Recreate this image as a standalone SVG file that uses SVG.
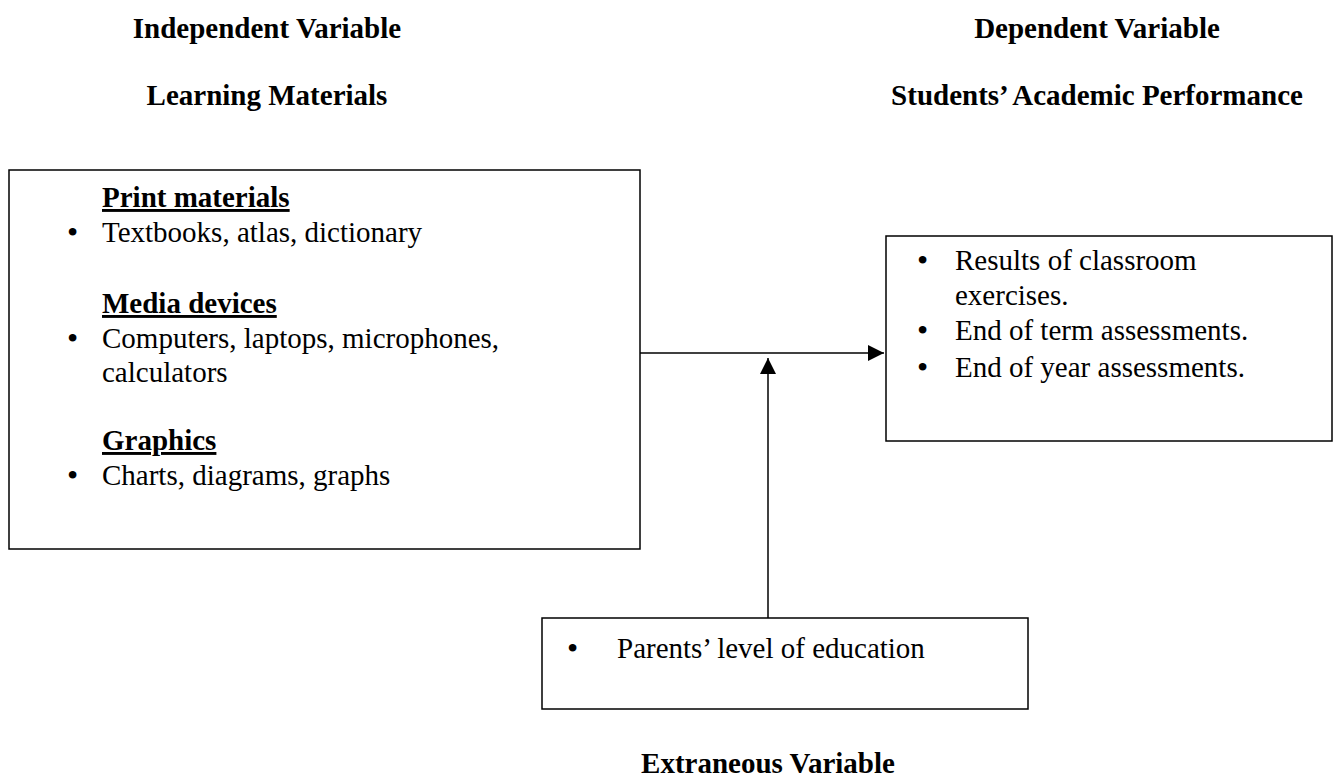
<svg xmlns="http://www.w3.org/2000/svg" width="1334" height="783" viewBox="0 0 1334 783" font-family="'Liberation Serif', 'Times New Roman', serif" font-size="29">
<defs>
<style>
text{fill:#000}
.b{font-weight:bold}
.h{font-weight:bold;text-anchor:middle}
.u{text-decoration:underline}
.bl{font-size:32px}
.box{fill:#fff;stroke:#000;stroke-width:1.5}
.ln{stroke:#000;stroke-width:1.5;fill:none}
</style>
<marker id="ah" viewBox="0 0 16 16" refX="16" refY="8" markerWidth="16" markerHeight="16" markerUnits="userSpaceOnUse" orient="auto">
<path d="M0,0 L16,8 L0,16 z" fill="#000"/>
</marker>
</defs>
<rect width="1334" height="783" fill="#fff"/>
<g id="headers">
<text class="h" x="267" y="38">Independent Variable</text>
<text class="h" x="267" y="105">Learning Materials</text>
<text class="h" x="1097" y="38">Dependent Variable</text>
<text class="h" x="1097" y="105">Students’ Academic Performance</text>
<text class="h" x="768" y="773">Extraneous Variable</text>
</g>
<g id="connectors">
<line class="ln" x1="640" y1="353" x2="884" y2="353" marker-end="url(#ah)"/>
<line class="ln" x1="768" y1="618" x2="768" y2="358" marker-end="url(#ah)"/>
</g>
<g id="independent">
<rect class="box" x="9" y="170" width="631" height="379"/>
<text class="b u" x="102" y="207">Print materials</text>
<text class="bl" x="67" y="243">•</text><text x="102" y="242">Textbooks, atlas, dictionary</text>
<text class="b u" x="102" y="313">Media devices</text>
<text class="bl" x="67" y="349">•</text><text x="102" y="348">Computers, laptops, microphones,</text>
<text x="102" y="382">calculators</text>
<text class="b u" x="102" y="450">Graphics</text>
<text class="bl" x="67" y="486">•</text><text x="102" y="485">Charts, diagrams, graphs</text>
</g>
<g id="dependent">
<rect class="box" x="886" y="236" width="446" height="205"/>
<text class="bl" x="917" y="271">•</text><text x="955" y="270">Results of classroom</text>
<text x="955" y="305">exercises.</text>
<text class="bl" x="917" y="341">•</text><text x="955" y="340">End of term assessments.</text>
<text class="bl" x="917" y="378">•</text><text x="955" y="377">End of year assessments.</text>
</g>
<g id="extraneous">
<rect class="box" x="542" y="618" width="486" height="91"/>
<text class="bl" x="567" y="659">•</text><text x="617" y="658">Parents’ level of education</text>
</g>
</svg>
